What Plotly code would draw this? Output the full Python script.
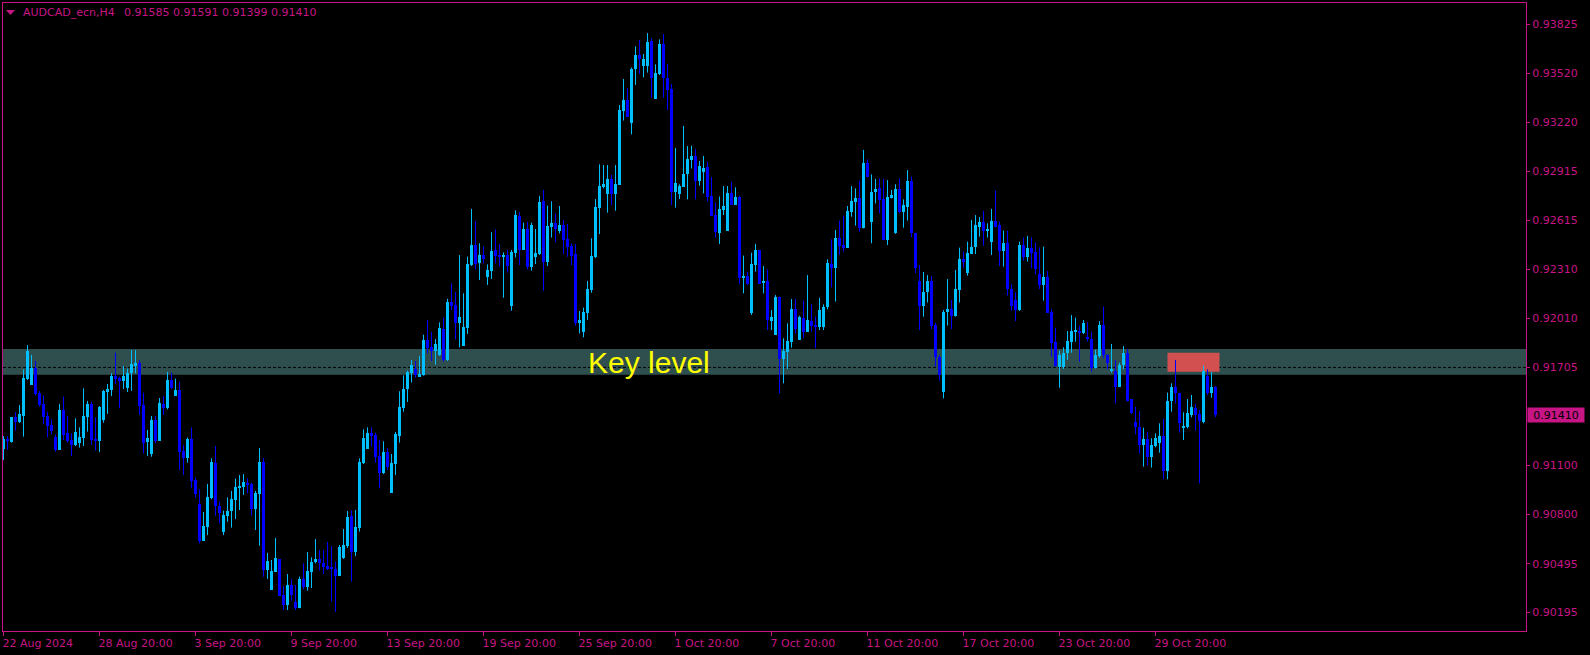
import plotly.graph_objects as go

# ---------------- data (AUDCAD H4) ----------------
opens = [0.91203,0.91264,0.91248,0.91398,0.91369,0.91406,0.91637,0.91598,0.91705,0.91546,
0.91480,0.91406,0.91351,0.91279,0.91197,0.91443,0.91299,0.91258,0.91227,0.91242,
0.91273,0.91402,0.91480,0.91262,0.91252,0.91382,0.91554,0.91567,0.91653,0.91639,
0.91622,0.91581,0.91670,0.91717,0.91735,0.91474,0.91246,0.91172,0.91382,0.91252,
0.91480,0.91454,0.91628,0.91530,0.91567,0.91190,0.91149,0.91264,0.91011,0.90863,
0.90635,0.90723,0.90898,0.91114,0.90853,0.90691,0.90789,0.90820,0.90888,0.90964,
0.90970,0.90991,0.90987,0.90833,0.90927,0.91122,0.90456,0.90333,0.90444,0.90524,
0.90302,0.90240,0.90364,0.90261,0.90224,0.90401,0.90353,0.90446,0.90505,0.90524,
0.90497,0.90481,0.90471,0.90462,0.90419,0.90530,0.90604,0.90789,0.90569,0.90717,
0.91114,0.91205,0.91299,0.91287,0.91160,0.91053,0.91182,0.90933,0.91110,0.91283,
0.91456,0.91573,0.91674,0.91696,0.91649,0.91659,0.91875,0.91832,0.91809,0.91783,
0.91943,0.91752,0.92110,0.92091,0.91982,0.91840,0.91951,0.92338,0.92461,0.92348,
0.92400,0.92266,0.92303,0.92431,0.92394,0.92389,0.92398,0.92085,0.92414,0.92640,
0.92431,0.92560,0.92324,0.92389,0.92406,0.92731,0.92357,0.92575,0.92599,0.92546,
0.92583,0.92498,0.92457,0.92406,0.91978,0.91925,0.92044,0.92184,0.92389,0.92692,
0.92817,0.92776,0.92869,0.92776,0.92832,0.93290,0.93356,0.93216,0.93545,0.93634,
0.93566,0.93566,0.93720,0.93364,0.93516,0.93700,0.93490,0.93424,0.92790,0.92778,
0.92821,0.92897,0.92986,0.93011,0.92858,0.92910,0.92941,0.92764,0.92646,0.92537,
0.92677,0.92550,0.92780,0.92708,0.92760,0.92256,0.92270,0.92040,0.92338,0.92431,
0.92225,0.92241,0.91995,0.91906,0.92141,0.91756,0.91803,0.91865,0.92067,0.91875,
0.92013,0.91927,0.91992,0.91968,0.91958,0.91958,0.92077,0.92344,0.92322,0.92503,
0.92461,0.92445,0.92667,0.92729,0.92749,0.92564,0.92969,0.92605,0.92790,0.92811,
0.92745,0.92492,0.92753,0.92537,0.92805,0.92667,0.92698,0.92856,0.92533,0.92239,
0.92087,0.92169,0.92239,0.91968,0.91768,0.91552,0.92050,0.92064,0.92025,0.92184,
0.92375,0.92287,0.92406,0.92447,0.92575,0.92601,0.92550,0.92482,0.92609,0.92585,
0.92424,0.92472,0.92188,0.92122,0.92060,0.92461,0.92389,0.92445,0.92420,0.92280,
0.92215,0.92266,0.92046,0.91865,0.91711,0.91711,0.91793,0.91865,0.91925,0.91931,
0.91920,0.91894,0.91879,0.91705,0.91777,0.91968,0.91783,0.91686,0.91684,0.91587,
0.91721,0.91793,0.91509,0.91367,0.91336,0.91227,0.91262,0.91155,0.91221,0.91238,
0.91283,0.91069,0.91499,0.91583,0.91546,0.91336,0.91336,0.91412,0.91454,0.91419,
0.91371,0.91655,0.91550,0.91585]
highs = [0.91283,0.91283,0.91398,0.91431,0.91474,0.91694,0.91844,0.91783,0.91746,0.91561,
0.91532,0.91433,0.91386,0.91293,0.91480,0.91526,0.91406,0.91299,0.91392,0.91336,
0.91577,0.91499,0.91495,0.91398,0.91468,0.91567,0.91604,0.91670,0.91797,0.91649,
0.91715,0.91698,0.91814,0.91814,0.91752,0.91550,0.91320,0.91406,0.91406,0.91517,
0.91530,0.91678,0.91674,0.91637,0.91618,0.91227,0.91273,0.91336,0.91028,0.90954,
0.90814,0.90987,0.91145,0.91221,0.90878,0.90822,0.90904,0.90944,0.91020,0.91042,
0.91048,0.91022,0.90995,0.90944,0.91209,0.91147,0.90561,0.90518,0.90654,0.90524,
0.90357,0.90431,0.90399,0.90364,0.90415,0.90497,0.90567,0.90534,0.90647,0.90580,
0.90580,0.90629,0.90604,0.90508,0.90610,0.90709,0.90820,0.90826,0.90826,0.91145,
0.91324,0.91336,0.91336,0.91303,0.91258,0.91250,0.91207,0.91172,0.91308,0.91559,
0.91657,0.91686,0.91752,0.91746,0.91777,0.91908,0.91999,0.91925,0.91881,0.91984,
0.92013,0.92130,0.92225,0.92171,0.92400,0.92163,0.92389,0.92684,0.92609,0.92472,
0.92453,0.92342,0.92540,0.92558,0.92466,0.92416,0.92431,0.92431,0.92675,0.92665,
0.92599,0.92605,0.92599,0.92560,0.92764,0.92801,0.92704,0.92731,0.92657,0.92702,
0.92616,0.92591,0.92472,0.92468,0.92054,0.92075,0.92239,0.92503,0.92745,0.92959,
0.92955,0.92955,0.92893,0.92955,0.93325,0.93486,0.93428,0.93556,0.93687,0.93726,
0.93640,0.93769,0.93737,0.93576,0.93730,0.93763,0.93578,0.93455,0.93060,0.92836,
0.93196,0.93072,0.93074,0.93054,0.92980,0.93011,0.92976,0.92881,0.92725,0.92760,
0.92825,0.92825,0.92852,0.92817,0.92766,0.92396,0.92297,0.92414,0.92468,0.92431,
0.92332,0.92311,0.92060,0.92153,0.92143,0.91886,0.91978,0.92128,0.92128,0.92025,
0.92118,0.92276,0.92095,0.92019,0.92136,0.92095,0.92373,0.92496,0.92554,0.92612,
0.92642,0.92702,0.92825,0.92811,0.92858,0.93048,0.92990,0.92897,0.92869,0.92873,
0.92869,0.92862,0.92801,0.92836,0.92873,0.92743,0.92924,0.92883,0.92537,0.92338,
0.92295,0.92276,0.92270,0.91982,0.91783,0.92060,0.92252,0.92122,0.92307,0.92445,
0.92420,0.92482,0.92616,0.92646,0.92634,0.92671,0.92595,0.92684,0.92797,0.92605,
0.92550,0.92550,0.92219,0.92169,0.92482,0.92507,0.92517,0.92509,0.92476,0.92447,
0.92451,0.92301,0.92067,0.91951,0.91809,0.91830,0.91931,0.92029,0.92013,0.91964,
0.91999,0.91984,0.91927,0.91814,0.91992,0.92081,0.91787,0.91851,0.91752,0.91735,
0.91838,0.91820,0.91509,0.91464,0.91437,0.91334,0.91310,0.91269,0.91299,0.91361,
0.91388,0.91550,0.91608,0.91752,0.91550,0.91429,0.91511,0.91536,0.91480,0.91443,
0.91717,0.91694,0.91680,0.91591]
lows = [0.91135,0.91197,0.91242,0.91316,0.91363,0.91279,0.91628,0.91598,0.91532,0.91464,
0.91357,0.91275,0.91293,0.91186,0.91197,0.91258,0.91242,0.91160,0.91221,0.91211,
0.91221,0.91310,0.91227,0.91192,0.91184,0.91365,0.91419,0.91530,0.91604,0.91454,
0.91573,0.91554,0.91561,0.91670,0.91412,0.91176,0.91160,0.91155,0.91238,0.91252,
0.91412,0.91447,0.91571,0.91530,0.91073,0.91042,0.91118,0.90960,0.90902,0.90621,
0.90635,0.90672,0.90892,0.90791,0.90744,0.90672,0.90754,0.90717,0.90771,0.90826,
0.90919,0.90929,0.90791,0.90703,0.90606,0.90415,0.90401,0.90333,0.90444,0.90298,
0.90209,0.90209,0.90267,0.90209,0.90220,0.90337,0.90329,0.90345,0.90497,0.90452,
0.90431,0.90456,0.90261,0.90197,0.90419,0.90524,0.90592,0.90384,0.90542,0.90693,
0.91110,0.91205,0.91217,0.91118,0.90960,0.91048,0.91073,0.90933,0.91042,0.91242,
0.91433,0.91493,0.91612,0.91643,0.91649,0.91655,0.91793,0.91746,0.91723,0.91777,
0.91742,0.91746,0.92060,0.91879,0.91830,0.91840,0.91912,0.92332,0.92311,0.92245,
0.92348,0.92215,0.92252,0.92348,0.92328,0.92136,0.92291,0.92056,0.92385,0.92338,
0.92431,0.92311,0.92303,0.92344,0.92400,0.92178,0.92332,0.92507,0.92476,0.92533,
0.92406,0.92389,0.92338,0.91962,0.91916,0.91892,0.91999,0.92167,0.92380,0.92529,
0.92811,0.92661,0.92708,0.92673,0.92832,0.93229,0.93253,0.93144,0.93449,0.93516,
0.93496,0.93525,0.93370,0.93364,0.93510,0.93370,0.93294,0.92708,0.92692,0.92745,
0.92821,0.92743,0.92934,0.92743,0.92827,0.92780,0.92729,0.92640,0.92507,0.92468,
0.92646,0.92550,0.92708,0.92708,0.92219,0.92163,0.92215,0.92030,0.92297,0.92221,
0.92163,0.91937,0.91937,0.91906,0.91546,0.91608,0.91696,0.91828,0.91916,0.91875,
0.91886,0.91927,0.91927,0.91824,0.91937,0.91937,0.92064,0.92200,0.92112,0.92400,
0.92420,0.92445,0.92636,0.92581,0.92544,0.92564,0.92879,0.92472,0.92718,0.92657,
0.92492,0.92461,0.92749,0.92530,0.92657,0.92568,0.92612,0.92509,0.92287,0.91937,
0.92019,0.92106,0.91943,0.91711,0.91624,0.91515,0.91964,0.91943,0.92019,0.92106,
0.92322,0.92272,0.92406,0.92406,0.92513,0.92457,0.92507,0.92400,0.92570,0.92332,
0.92328,0.92149,0.92056,0.91992,0.92054,0.92365,0.92359,0.92317,0.92280,0.92190,
0.92118,0.92044,0.91772,0.91711,0.91581,0.91696,0.91752,0.91797,0.91865,0.91742,
0.91912,0.91865,0.91680,0.91700,0.91766,0.91762,0.91694,0.91674,0.91484,0.91587,
0.91694,0.91495,0.91417,0.91293,0.91176,0.91094,0.91100,0.91088,0.91213,0.91180,
0.91016,0.91016,0.91433,0.91484,0.91303,0.91258,0.91330,0.91398,0.91316,0.90991,
0.91361,0.91536,0.91519,0.91399]
closes = [0.91264,0.91252,0.91398,0.91369,0.91417,0.91639,0.91805,0.91700,0.91542,0.91474,
0.91398,0.91345,0.91314,0.91197,0.91443,0.91289,0.91252,0.91227,0.91308,0.91275,
0.91406,0.91480,0.91258,0.91252,0.91464,0.91561,0.91571,0.91653,0.91635,0.91622,
0.91653,0.91674,0.91727,0.91735,0.91468,0.91238,0.91273,0.91382,0.91252,0.91489,
0.91458,0.91628,0.91581,0.91567,0.91186,0.91149,0.91264,0.91005,0.90925,0.90635,
0.90728,0.90904,0.91122,0.90853,0.90806,0.90795,0.90820,0.90892,0.90966,0.90970,
0.90999,0.90981,0.90833,0.90933,0.91122,0.90456,0.90514,0.90452,0.90530,0.90298,
0.90240,0.90364,0.90302,0.90220,0.90401,0.90353,0.90450,0.90505,0.90524,0.90497,
0.90473,0.90462,0.90464,0.90419,0.90598,0.90608,0.90783,0.90569,0.90721,0.91120,
0.91271,0.91299,0.91283,0.91155,0.91057,0.91182,0.91090,0.91114,0.91293,0.91460,
0.91571,0.91680,0.91719,0.91659,0.91665,0.91875,0.91828,0.91809,0.91851,0.91949,
0.91752,0.92110,0.92087,0.91982,0.92017,0.91955,0.92344,0.92461,0.92346,0.92400,
0.92375,0.92307,0.92424,0.92394,0.92389,0.92400,0.92332,0.92418,0.92646,0.92431,
0.92560,0.92324,0.92585,0.92410,0.92725,0.92357,0.92579,0.92599,0.92558,0.92585,
0.92492,0.92451,0.92394,0.91978,0.91999,0.92048,0.92190,0.92394,0.92698,0.92825,
0.92838,0.92869,0.92776,0.92838,0.93294,0.93356,0.93253,0.93547,0.93634,0.93609,
0.93609,0.93714,0.93490,0.93521,0.93702,0.93490,0.93418,0.92790,0.92842,0.92825,
0.92899,0.92992,0.93011,0.92858,0.92949,0.92934,0.92760,0.92640,0.92540,0.92684,
0.92702,0.92780,0.92708,0.92760,0.92260,0.92272,0.92221,0.92344,0.92431,0.92221,
0.92241,0.91999,0.92017,0.92141,0.91756,0.91809,0.91869,0.92067,0.91941,0.92015,
0.91927,0.91997,0.91962,0.91958,0.92060,0.92077,0.92352,0.92322,0.92503,0.92457,
0.92445,0.92671,0.92735,0.92749,0.92564,0.92969,0.92883,0.92790,0.92807,0.92739,
0.92492,0.92756,0.92770,0.92805,0.92667,0.92708,0.92856,0.92537,0.92322,0.92087,
0.92169,0.92239,0.91964,0.91768,0.91659,0.92050,0.92064,0.92025,0.92190,0.92375,
0.92359,0.92410,0.92447,0.92585,0.92601,0.92550,0.92560,0.92609,0.92575,0.92424,
0.92472,0.92188,0.92087,0.92060,0.92461,0.92389,0.92445,0.92414,0.92313,0.92215,
0.92266,0.92044,0.91855,0.91715,0.91783,0.91793,0.91869,0.91931,0.91931,0.91920,
0.91980,0.91879,0.91705,0.91783,0.91968,0.91783,0.91735,0.91692,0.91587,0.91721,
0.91793,0.91501,0.91427,0.91336,0.91227,0.91262,0.91155,0.91227,0.91269,0.91283,
0.91069,0.91499,0.91583,0.91546,0.91361,0.91340,0.91423,0.91464,0.91412,0.91375,
0.91684,0.91546,0.91583,0.91410]

x_tick_bars = [0, 24, 48, 72, 96, 120, 144, 168, 192, 216, 240, 264, 288]
x_tick_labels = ["22 Aug 2024", "28 Aug 20:00", "3 Sep 20:00", "9 Sep 20:00", "13 Sep 20:00",
                 "19 Sep 20:00", "25 Sep 20:00", "1 Oct 20:00", "7 Oct 20:00", "11 Oct 20:00",
                 "17 Oct 20:00", "23 Oct 20:00", "29 Oct 20:00"]
y_tick_vals = [0.93825, 0.93520, 0.93220, 0.92915, 0.92615, 0.92310, 0.92010,
               0.91705, 0.91100, 0.90800, 0.90495, 0.90195]
y_tick_text = ["%.5f" % v for v in y_tick_vals]

symbol = "AUDCAD_ecn,H4"
last_price = closes[-1]
key_low, key_high = 0.91660, 0.91820
key_line = 0.91706
zone_bars = (291, 304)
zone_low, zone_high = 0.91680, 0.91797

# ---------------- styling ----------------
BULL = "#00BFFF"
BEAR = "#0000FF"
AXC = "#C71585"
FONT = "DejaVu Sans"
YMIN, YMAX = 0.9007963, 0.9395458
XMIN, XMAX = -0.125, 380.625
PLOT_H = 628
one_px = (YMAX - YMIN) / PLOT_H

fig = go.Figure()

for bull, col in ((True, BULL), (False, BEAR)):
    wx, wy, bx, bb, bh = [], [], [], [], []
    for i, (o, h, l, c) in enumerate(zip(opens, highs, lows, closes)):
        if (c >= o) != bull:
            continue
        wx += [i, i, None]
        wy += [l, h, None]
        bx.append(i)
        bb.append(min(o, c))
        bh.append(max(abs(c - o), one_px))
    fig.add_trace(go.Scatter(x=wx, y=wy, mode="lines", line=dict(color=col, width=1),
                             hoverinfo="skip", showlegend=False))
    fig.add_trace(go.Bar(x=bx, y=bh, base=bb, width=0.75,
                         marker=dict(color=col, line=dict(width=0)), showlegend=False))

shapes = [
    dict(type="rect", xref="paper", yref="y", x0=0, x1=1, y0=key_low, y1=key_high,
         fillcolor="#2F4F4F", line=dict(width=0), layer="below"),
    dict(type="rect", xref="x", yref="y", x0=zone_bars[0], x1=zone_bars[1], y0=zone_low, y1=zone_high,
         fillcolor="#D35050", line=dict(width=0), layer="below"),
    dict(type="line", xref="paper", yref="y", x0=0, x1=1, y0=key_line, y1=key_line,
         line=dict(color="black", width=1, dash="3px,2px"), layer="below"),
]

def pxx(p):
    return (p - 3) / 1523.0

def pyy(p):
    return (631 - p) / 628.0

shapes.append(dict(type="path", xref="paper", yref="paper",
                   path="M %f %f L %f %f L %f %f Z" % (pxx(6), pyy(10), pxx(15), pyy(10), pxx(10.5), pyy(15)),
                   fillcolor=AXC, line=dict(width=0)))

annotations = [
    dict(xref="paper", yref="paper", x=pxx(21), y=pyy(12.5), xanchor="left", yanchor="middle",
         text=symbol, showarrow=False, font=dict(family=FONT, size=11, color=AXC)),
    dict(xref="paper", yref="paper", x=pxx(122), y=pyy(12.5), xanchor="left", yanchor="middle",
         text="%.5f %.5f %.5f %.5f" % (opens[-1], highs[-1], lows[-1], closes[-1]),
         showarrow=False, font=dict(family=FONT, size=11, color=AXC)),
    dict(xref="x", yref="y", x=145.6, y=0.91734, xanchor="left", yanchor="middle",
         text="Key level", showarrow=False,
         font=dict(family="Liberation Sans, Arial", size=30, color="#FFFF00")),
    dict(xref="paper", yref="y", x=1, y=last_price, xanchor="left", yanchor="middle", xshift=1,
         text="%.5f" % last_price, showarrow=False, width=56, height=14, bgcolor=AXC,
         borderpad=0, font=dict(family=FONT, size=11, color="black")),
]

fig.update_layout(
    width=1590, height=655,
    margin=dict(l=3, r=64, t=3, b=24, pad=0),
    paper_bgcolor="black", plot_bgcolor="black",
    showlegend=False, barmode="overlay", bargap=0,
    shapes=shapes, annotations=annotations,
    xaxis=dict(range=[XMIN, XMAX], showgrid=False, zeroline=False, showline=True,
               linecolor=AXC, linewidth=1, mirror=True, ticks="outside", ticklen=4,
               tickcolor=AXC, tickwidth=1, tickvals=x_tick_bars, ticktext=x_tick_labels,
               ticklabelposition="outside right", ticklabelstandoff=2, ticklabelshift=-2,
               tickfont=dict(family=FONT, size=11, color=AXC), fixedrange=True),
    yaxis=dict(range=[YMIN, YMAX], side="right", showgrid=False, zeroline=False, showline=True,
               linecolor=AXC, linewidth=1, mirror=True, ticks="outside", ticklen=3,
               tickcolor=AXC, tickwidth=1, tickvals=y_tick_vals, ticktext=y_tick_text,
               tickfont=dict(family=FONT, size=11, color=AXC), fixedrange=True),
)

fig.write_html("out.html", config={"displayModeBar": False},
               post_script="document.body.style.margin='0';document.body.style.background='black';")
